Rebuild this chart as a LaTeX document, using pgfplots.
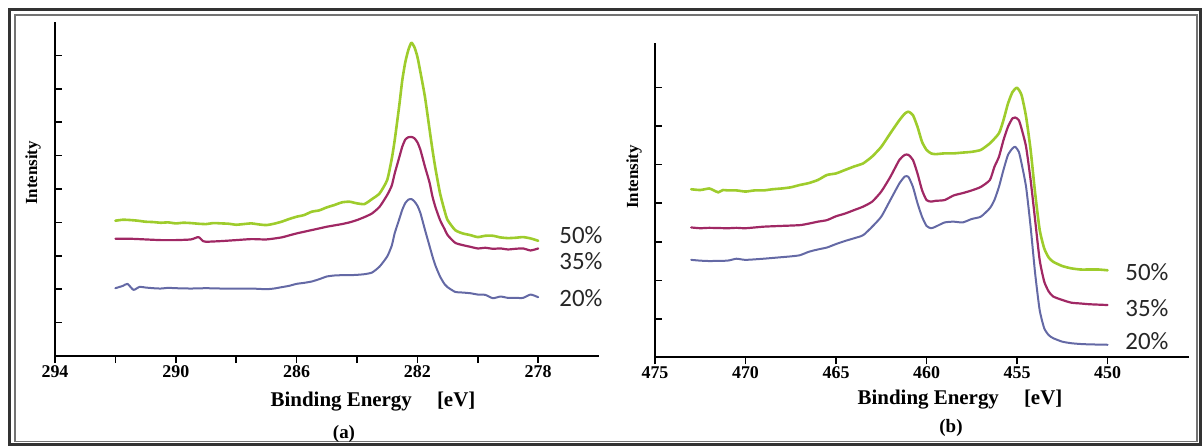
\documentclass[border=0pt]{standalone}
\usepackage{pgfplots}
\pgfplotsset{compat=1.18}
\usepackage{fontspec}
\setmainfont{Liberation Serif}
\newfontfamily\carlito{Carlito}

\definecolor{cgreen}{RGB}{158,204,44}
\definecolor{cpurple}{RGB}{160,40,100}
\definecolor{cblue}{RGB}{100,105,165}

\pgfplotsset{
  xpsaxis/.style={
    scale only axis,
    anchor=south west,
    x dir=reverse,
    axis x line=bottom, axis y line=left,
    axis line style={-, line width=1bp, black},
    xtick align=outside, ytick align=inside,
    major tick length=3.5bp, minor tick length=3.5bp,
    tick style={line width=0.8bp, black},
    yticklabels={},
    /pgf/number format/assume math mode=true,
    xticklabel style={font=\bfseries\fontsize{9}{9}\selectfont, inner sep=1bp},
    clip=false,
  },
  spec/.style={smooth, tension=0.35, line join=round, line cap=round},
}

\begin{document}
\begin{tikzpicture}
\useasboundingbox (0bp,0bp) rectangle (602bp,224bp);
\draw[line width=1.5bp, black!80] (4.75bp,1.75bp) rectangle (600.25bp,219.25bp);
\draw[line width=0.6bp, black!55] (7.5bp,3.25bp) rectangle (598.5bp,216.5bp);

% ---------------- panel (a) ----------------
\begin{axis}[xpsaxis, at={(27.5bp,46bp)}, width=271.8bp, height=167bp,
    xmin=276, xmax=294, ymin=0, ymax=10,
    xtick={278,282,286,290,294}, minor xtick={280,284,288,292},
    ytick={1,...,9}]
\addplot[spec, cgreen, line width=1.3bp] table {
292.0 4.05
291.75 4.08
291.5 4.07
291.25 4.05
291.0 4.02
290.75 4.01
290.5 3.99
290.25 4.00
290.0 3.97
289.75 3.99
289.5 3.98
289.25 3.96
289.0 3.95
288.75 3.98
288.5 3.97
288.25 3.96
288.0 3.93
287.75 3.95
287.5 3.97
287.25 3.94
287.0 3.92
286.75 3.96
286.5 4.02
286.25 4.10
286.0 4.17
285.75 4.22
285.5 4.32
285.25 4.36
285.0 4.45
284.75 4.52
284.5 4.60
284.25 4.62
284.0 4.57
283.75 4.55
283.5 4.70
283.25 4.87
283.0 5.27
282.85 5.9
282.75 6.47
282.6 7.5
282.5 8.26
282.4 8.8
282.3 9.16
282.2 9.38
282.1 9.25
282.0 8.96
281.9 8.5
281.75 7.76
281.6 6.8
281.5 6.17
281.4 5.6
281.25 4.87
281.1 4.35
281.0 4.07
280.75 3.77
280.5 3.67
280.25 3.62
280.0 3.56
279.75 3.60
279.5 3.60
279.25 3.55
279.0 3.53
278.75 3.54
278.5 3.56
278.25 3.52
278.0 3.45
};
\addplot[spec, cpurple, line width=1.1bp] table {
292.0 3.51
291.5 3.51
291.0 3.49
290.5 3.47
290.0 3.47
289.5 3.49
289.25 3.56
289.1 3.44
289.0 3.42
288.5 3.44
288.0 3.47
287.5 3.50
287.0 3.49
286.5 3.55
286.25 3.61
286.0 3.67
285.75 3.72
285.5 3.77
285.25 3.82
285.0 3.87
284.75 3.91
284.5 3.95
284.25 4.00
284.0 4.07
283.75 4.16
283.5 4.27
283.25 4.47
283.0 4.82
282.85 5.1
282.75 5.47
282.6 5.95
282.5 6.27
282.4 6.48
282.3 6.55
282.2 6.56
282.1 6.52
282.0 6.40
281.9 6.17
281.75 5.67
281.6 5.2
281.5 4.77
281.4 4.45
281.25 4.07
281.1 3.80
281.0 3.62
280.75 3.39
280.5 3.32
280.25 3.27
280.0 3.22
279.75 3.24
279.5 3.21
279.25 3.22
279.0 3.19
278.75 3.21
278.5 3.22
278.25 3.16
278.0 3.22
};
\addplot[spec, cblue, line width=1bp] table {
292.0 2.03
291.75 2.10
291.6 2.16
291.4 1.98
291.2 2.07
291.0 2.05
290.75 2.03
290.5 2.02
290.25 2.04
290.0 2.03
289.5 2.02
289.0 2.03
288.5 2.02
288.0 2.02
287.5 2.02
287.0 2.00
286.75 2.02
286.5 2.06
286.25 2.10
286.0 2.16
285.75 2.19
285.5 2.23
285.25 2.30
285.0 2.38
284.75 2.41
284.5 2.42
284.25 2.42
284.0 2.43
283.75 2.45
283.5 2.50
283.25 2.68
283.0 2.98
282.85 3.30
282.75 3.68
282.6 4.10
282.5 4.38
282.4 4.58
282.3 4.68
282.2 4.70
282.1 4.63
282.0 4.50
281.9 4.28
281.75 3.78
281.6 3.30
281.5 2.98
281.4 2.70
281.25 2.38
281.1 2.15
281.0 2.06
280.75 1.92
280.5 1.90
280.25 1.88
280.0 1.84
279.75 1.83
279.5 1.73
279.25 1.78
279.0 1.74
278.75 1.74
278.5 1.74
278.25 1.84
278.0 1.76
};
\end{axis}

% ---------------- panel (b) ----------------
\begin{axis}[xpsaxis, at={(327.5bp,45.25bp)}, width=267bp, height=157.25bp,
    xmin=445.5, xmax=475, ymin=0, ymax=8.15,
    xtick={450,455,460,465,470,475},
    ytick={1,...,7}]
\addplot[spec, cgreen, line width=1.3bp] table {
473.0 4.36
472.5 4.34
472.0 4.38
471.75 4.33
471.5 4.28
471.25 4.34
471.0 4.33
470.5 4.33
470.0 4.30
469.5 4.33
469.0 4.33
468.5 4.36
468.0 4.38
467.5 4.41
467.0 4.47
466.5 4.52
466.0 4.60
465.5 4.73
465.0 4.77
464.5 4.86
464.0 4.95
463.5 5.03
463.0 5.21
462.5 5.46
462.0 5.81
461.5 6.15
461.2 6.32
461.0 6.37
460.75 6.28
460.5 5.98
460.25 5.59
460.0 5.38
459.75 5.29
459.5 5.27
459.0 5.29
458.5 5.29
458.0 5.31
457.5 5.33
457.0 5.38
456.5 5.55
456.0 5.81
455.75 6.15
455.5 6.58
455.25 6.88
455.0 6.99
454.75 6.80
454.5 6.24
454.25 5.38
454.0 4.26
453.75 3.31
453.5 2.83
453.25 2.59
453.0 2.48
452.5 2.37
452.0 2.31
451.5 2.28
451.0 2.28
450.5 2.28
450.0 2.26
};
\addplot[spec, cpurple, line width=1.1bp] table {
473.0 3.37
472.5 3.35
472.0 3.36
471.0 3.35
470.5 3.36
470.0 3.35
469.0 3.39
468.0 3.41
467.0 3.43
466.5 3.47
466.0 3.52
465.5 3.56
465.0 3.66
464.5 3.73
464.0 3.82
463.5 3.91
463.0 4.04
462.5 4.30
462.0 4.68
461.5 5.12
461.2 5.25
461.0 5.25
460.75 5.12
460.5 4.77
460.25 4.34
460.0 4.08
459.75 4.04
459.5 4.06
459.0 4.08
458.5 4.20
458.0 4.26
457.5 4.33
457.0 4.42
456.5 4.60
456.25 4.94
456.0 5.20
455.75 5.63
455.5 5.98
455.25 6.20
455.1 6.22
454.9 6.15
454.75 5.93
454.5 5.46
454.25 4.60
454.0 3.56
453.75 2.53
453.5 1.97
453.25 1.71
453.0 1.58
452.5 1.49
452.0 1.42
451.5 1.40
451.0 1.38
450.0 1.36
};
\addplot[spec, cblue, line width=1bp] table {
473.0 2.53
472.5 2.51
472.0 2.50
471.0 2.51
470.5 2.56
470.0 2.53
469.0 2.56
468.0 2.60
467.5 2.62
467.0 2.65
466.5 2.74
466.0 2.80
465.5 2.85
465.0 2.94
464.5 3.02
464.0 3.09
463.5 3.17
463.0 3.39
462.5 3.65
462.0 4.08
461.5 4.51
461.2 4.69
461.0 4.68
460.75 4.42
460.5 4.00
460.25 3.65
460.0 3.41
459.75 3.35
459.5 3.39
459.0 3.50
458.5 3.52
458.0 3.50
457.5 3.59
457.0 3.65
456.5 3.87
456.25 4.08
456.0 4.42
455.75 4.86
455.5 5.25
455.25 5.42
455.1 5.46
454.9 5.33
454.75 5.03
454.5 4.42
454.25 3.39
454.0 2.18
453.75 1.23
453.5 0.76
453.25 0.58
453.0 0.50
452.5 0.41
452.0 0.37
451.5 0.35
451.0 0.34
450.0 0.33
};
\end{axis}

% ---------------- texts ----------------
\begin{scope}[every node/.style={inner sep=0pt}]
\node[font=\bfseries\fontsize{10.5}{10.5}\selectfont] at (186.5bp,23bp) {Binding Energy\hspace{1.2em}[eV]};
\node[font=\bfseries\fontsize{10.5}{10.5}\selectfont] at (480bp,24bp) {Binding Energy\hspace{1.2em}[eV]};
\node[font=\bfseries\fontsize{9.5}{9.5}\selectfont] at (172bp,7bp) {(a)};
\node[font=\bfseries\fontsize{9.5}{9.5}\selectfont] at (475.5bp,10bp) {(b)};
\node[font=\bfseries\fontsize{8.5}{8.5}\selectfont, rotate=90] at (16.5bp,137.5bp) {Intensity};
\node[font=\bfseries\fontsize{8.5}{8.5}\selectfont, rotate=90] at (317bp,135.5bp) {Intensity};
\begin{scope}[every node/.append style={font=\carlito\fontsize{12.5}{12.5}\selectfont, text=black!85, anchor=west}]
\node at (279.5bp,106.5bp) {50\%};
\node at (279.5bp,93.5bp) {35\%};
\node at (279.5bp,75bp) {20\%};
\node at (562.5bp,88bp) {50\%};
\node at (562.5bp,70bp) {35\%};
\node at (562.5bp,53.5bp) {20\%};
\end{scope}
\end{scope}
\end{tikzpicture}
\end{document}
